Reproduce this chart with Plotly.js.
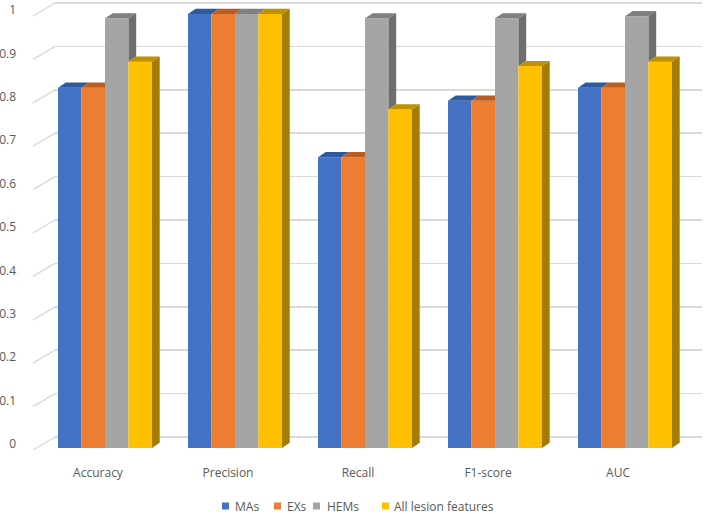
<!DOCTYPE html>
<html>
<head>
<meta charset="utf-8">
<script src="https://cdn.plot.ly/plotly-3.0.1.min.js"></script>
<style>
  html, body { margin: 0; padding: 0; background: #ffffff; }
  #chart { width: 708px; height: 514px; }
</style>
</head>
<body>
<div id="chart"></div>
<script>
// ---------- data ----------
const categories = ['Accuracy', 'Precision', 'Recall', 'F1-score', 'AUC'];
const seriesNames = ['MAs', 'EXs', 'HEMs', 'All lesion features'];
const maValues  = [0.83, 1.00, 0.67, 0.80, 0.83];
const exValues  = [0.83, 1.00, 0.67, 0.80, 0.83];
const hemValues = [0.99, 1.00, 0.99, 0.99, 0.995];
const allValues = [0.89, 1.00, 0.78, 0.88, 0.89];
const yTickValues = [0, 0.1, 0.2, 0.3, 0.4, 0.5, 0.6, 0.7, 0.8, 0.9, 1];
const yTickLabels = ['0', '0.1', '0.2', '0.3', '0.4', '0.5', '0.6', '0.7', '0.8', '0.9', '1'];

// ---------- styling / geometry ----------
const series = [maValues, exValues, hemValues, allValues];
const frontColors = ['#4472C4', '#ED7D31', '#A5A5A5', '#FFC000'];
const topColors   = ['#2F5A9E', '#B95E22', '#808080', '#BF9000'];
const sideColors  = ['#2B4F8C', '#A85520', '#6E6E6E', '#A57C00'];
const textColor = '#595959';
const fontFamily = '"Open Sans", "Noto Sans", sans-serif';

const W = 708, H = 514;
const M = {l: 55, r: 6, t: 0, b: 59};
const plotW = W - M.l - M.r, plotH = H - M.t - M.b;
const zeroPx = 448, pxPerY = 434;         // front-face value scale
const firstCatPx = 105, pxPerCat = 130;   // category centres
const backShiftPx = 11;                   // back wall raised
const yRange = [(zeroPx - (M.t + plotH)) / pxPerY, (zeroPx - M.t) / pxPerY];
const xRange = [(M.l - firstCatPx) / pxPerCat, (M.l + plotW - firstCatPx) / pxPerCat];
const bargap = 0.277;
const groupW = 1 - bargap;
const barW = groupW / series.length;
const DX = 7.7 / pxPerCat;   // depth offset in x units
const DY = 5.2 / pxPerY;     // depth offset in y units

const paperX = px => (px - M.l) / plotW;
const paperY = py => (M.t + plotH - py) / plotH;

const traces = [];
// front faces: bar traces
series.forEach((vals, i) => {
  traces.push({
    type: 'bar',
    name: seriesNames[i],
    x: categories.map((c, j) => j),
    y: vals,
    customdata: categories,
    textposition: 'none',
    marker: {color: frontColors[i], line: {width: 0}},
    showlegend: false,
    hovertemplate: '%{customdata}: %{y}<extra>' + seriesNames[i] + '</extra>'
  });
});

// 3D top and side faces computed from the same data
series.forEach((vals, i) => {
  const topX = [], topY = [], sideX = [], sideY = [];
  vals.forEach((v, j) => {
    const x0 = j - groupW / 2 + i * barW;
    const x1 = x0 + barW;
    const vNext = i < series.length - 1 ? series[i + 1][j] : 0;
    // top face (trim part hidden behind a taller neighbour)
    let h = (vNext - v) / DY;
    h = Math.max(0, Math.min(1, h));
    if (h <= 0) {
      topX.push(x0, x0 + DX, x1 + DX, x1, x0, null);
      topY.push(v, v + DY, v + DY, v, v, null);
    } else {
      topX.push(x0, x0 + DX, x1 + DX, x1 + h * DX, x1, x1, x0, null);
      topY.push(v, v + DY, v + DY, v + h * DY, v + h * DY, v, v, null);
    }
    // visible side face
    if (v > vNext + 1e-9) {
      sideX.push(x1, x1, x1 + DX, x1 + DX, x1, null);
      sideY.push(vNext, v, v + DY, vNext + DY, vNext, null);
    }
  });
  traces.push({
    type: 'scatter', mode: 'lines', x: topX, y: topY, fill: 'toself',
    fillcolor: topColors[i], line: {width: 0, color: topColors[i]},
    hoverinfo: 'skip', showlegend: false
  });
  if (sideX.length) {
    traces.push({
      type: 'scatter', mode: 'lines', x: sideX, y: sideY, fill: 'toself',
      fillcolor: sideColors[i], line: {width: 0, color: sideColors[i]},
      hoverinfo: 'skip', showlegend: false
    });
  }
});

// ---------- decorations: floor diagonals, legend ----------
const shapes = [];
yTickValues.forEach(v => {
  shapes.push({
    type: 'line', xref: 'paper', yref: 'paper', layer: 'below',
    x0: paperX(33), y0: paperY(zeroPx + 2 - pxPerY * v),
    x1: paperX(M.l), y1: paperY(zeroPx - backShiftPx - pxPerY * v),
    line: {color: '#D9D9D9', width: 1.4}
  });
});

const legendSquarePx = [222, 274, 313, 382];
const legendTextPx = [233, 285, 325, 392];
const legendYPx = 506;
const annotations = [];
seriesNames.forEach((name, i) => {
  shapes.push({
    type: 'rect', xref: 'paper', yref: 'paper',
    x0: paperX(legendSquarePx[i]), x1: paperX(legendSquarePx[i] + 7),
    y0: paperY(legendYPx + 3.5), y1: paperY(legendYPx - 3.5),
    fillcolor: frontColors[i], line: {width: 0}
  });
  annotations.push({
    xref: 'paper', yref: 'paper', x: paperX(legendTextPx[i]), y: paperY(legendYPx),
    xanchor: 'left', yanchor: 'middle', showarrow: false, text: name,
    font: {family: fontFamily, size: 12, color: textColor}
  });
});

const layout = {
  width: W, height: H,
  margin: M,
  paper_bgcolor: '#ffffff', plot_bgcolor: 'rgba(0,0,0,0)',
  font: {family: fontFamily, size: 12, color: textColor},
  barmode: 'group', bargap: bargap, bargroupgap: 0,
  showlegend: false,
  xaxis: {
    range: xRange, tickmode: 'array',
    tickvals: categories.map((c, j) => j), ticktext: categories,
    showgrid: false, zeroline: false, showline: false, ticks: '',
    ticklabelshift: -7, ticklabelstandoff: 9,
    tickfont: {family: fontFamily, size: 12, color: textColor},
    fixedrange: true
  },
  yaxis: {
    range: yRange, tickmode: 'array', tickvals: yTickValues, ticktext: yTickLabels,
    showgrid: false, zeroline: false, showline: false, ticks: '',
    ticklabelstandoff: 38, ticklabelshift: -4,
    tickfont: {family: fontFamily, size: 12, color: textColor},
    fixedrange: true
  },
  yaxis2: {
    overlaying: 'y',
    range: [yRange[0] - backShiftPx / pxPerY, yRange[1] - backShiftPx / pxPerY],
    tickmode: 'array', tickvals: yTickValues,
    showticklabels: false, ticks: '',
    showgrid: true, gridcolor: '#D9D9D9', gridwidth: 1.5,
    zeroline: true, zerolinecolor: '#D9D9D9', zerolinewidth: 1.5,
    showline: false, fixedrange: true
  },
  shapes: shapes,
  annotations: annotations
};

// invisible trace that activates the back-wall grid axis
traces.unshift({
  type: 'scatter', mode: 'markers', x: [0], y: [0], yaxis: 'y2',
  marker: {opacity: 0}, hoverinfo: 'skip', showlegend: false
});

Plotly.newPlot('chart', traces, layout, {displayModeBar: false, staticPlot: true});
</script>
</body>
</html>
